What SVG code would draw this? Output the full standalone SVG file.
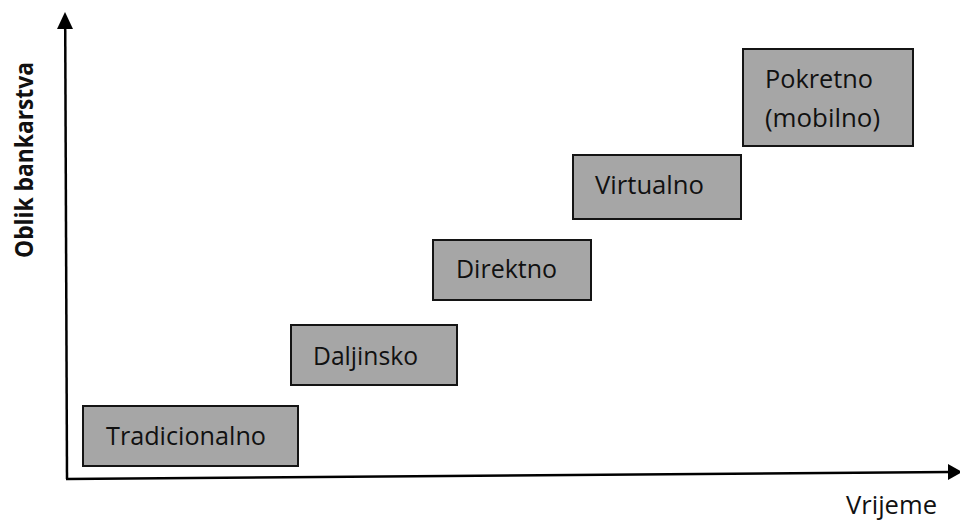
<svg xmlns="http://www.w3.org/2000/svg" width="960" height="520" viewBox="0 0 960 520">
<style>
.box{fill:#a6a6a6;stroke:#141414;stroke-width:2}
.lbl{font-family:"Open Sans","Liberation Sans",sans-serif;font-size:25px;fill:#111}
.axis{stroke:#000;stroke-width:2.5;fill:none}
.ax-lbl{font-family:"Open Sans","Liberation Sans",sans-serif;font-size:25px;fill:#111}
</style>
<rect width="960" height="520" fill="#fff"/>
<g id="connectors">
<line class="axis" x1="67" y1="479" x2="65.2" y2="26"/>
<polygon points="65,12 57,29 73,29" fill="#000"/>
<line class="axis" x1="66" y1="479" x2="950" y2="472"/>
<polygon points="962,472 948,464 948,480" fill="#000"/>
</g>
<g id="axis-y-label">
<text class="ax-lbl" font-weight="bold" font-size="27" transform="translate(33,258) rotate(-90)" textLength="196" lengthAdjust="spacingAndGlyphs">Oblik bankarstva</text>
</g>
<g id="axis-x-label">
<text class="ax-lbl" x="846" y="514" textLength="91" lengthAdjust="spacingAndGlyphs">Vrijeme</text>
</g>
<g id="tradicionalno">
<rect class="box" x="83" y="406" width="215" height="60"/>
<text class="lbl" x="106" y="445" textLength="160" lengthAdjust="spacingAndGlyphs">Tradicionalno</text>
</g>
<g id="daljinsko">
<rect class="box" x="291" y="325" width="166" height="60"/>
<text class="lbl" x="313" y="365" textLength="105" lengthAdjust="spacingAndGlyphs">Daljinsko</text>
</g>
<g id="direktno">
<rect class="box" x="433" y="240" width="158" height="60"/>
<text class="lbl" x="456" y="278" textLength="101" lengthAdjust="spacingAndGlyphs">Direktno</text>
</g>
<g id="virtualno">
<rect class="box" x="573" y="155" width="168" height="64"/>
<text class="lbl" x="595" y="194" textLength="109" lengthAdjust="spacingAndGlyphs">Virtualno</text>
</g>
<g id="pokretno">
<rect class="box" x="743" y="49" width="170" height="97"/>
<text class="lbl" x="765" y="88" textLength="108" lengthAdjust="spacingAndGlyphs">Pokretno</text>
<text class="lbl" x="765" y="127" textLength="115" lengthAdjust="spacingAndGlyphs">(mobilno)</text>
</g>
</svg>
